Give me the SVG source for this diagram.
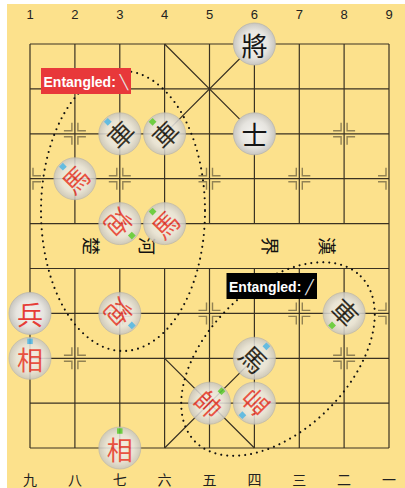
<svg xmlns="http://www.w3.org/2000/svg" width="405" height="488" viewBox="0 0 405 488">
  <style>
    .grid { stroke: #3a3222; stroke-width: 1.2; fill: none; }
    .mark { stroke: #6e6240; stroke-width: 1.4; fill: none; opacity: 0.75; }
    .num { font-family: "Liberation Sans", Arial, sans-serif; font-size: 13px; fill: #222; text-anchor: middle; }
    .cnum { font-family: "Noto Sans CJK SC", "Noto Sans", sans-serif; font-size: 14px; fill: #222; text-anchor: middle; }
    .river { font-family: "Noto Sans CJK TC", "Noto Sans CJK SC", sans-serif; font-size: 18px; fill: #111; text-anchor: middle; dominant-baseline: central; }
    .dots { fill: none; stroke: #111; stroke-width: 2.1; stroke-dasharray: 0 6; stroke-linecap: round; }
    .disc { fill: url(#pieceFill); stroke: #b9b6ae; stroke-width: 0.8; }
    .glyph { font-family: "Noto Sans CJK TC", "Noto Sans CJK SC", sans-serif; font-size: 26px; text-anchor: middle; dominant-baseline: central; }
    .red { fill: #e63c36; }
    .black { fill: #151515; }
    .q { opacity: 0.86; }
    .tagtext { font-family: "Liberation Sans", Arial, sans-serif; font-size: 14px; font-weight: bold; fill: #fff; }
    .slash { font-family: "DejaVu Sans", sans-serif; font-weight: normal; fill: #e6e6e6; }
  </style>
  <defs>
    <radialGradient id="pieceFill" cx="50%" cy="50%" r="50%">
      <stop offset="0%" stop-color="#f6f5f2"/>
      <stop offset="65%" stop-color="#e6e4df"/>
      <stop offset="100%" stop-color="#c8c6c0"/>
    </radialGradient>
    <path id="crossFull" class="mark" d="M-11,-3 H-3 V-11 M3,-11 V-3 H11 M11,3 H3 V11 M-3,11 V3 H-11"/>
    <path id="crossRight" class="mark" d="M3,-11 V-3 H11 M11,3 H3 V11"/>
    <path id="crossLeft" class="mark" d="M-11,-3 H-3 V-11 M-3,11 V3 H-11"/>
    <circle id="disc" class="disc" r="21"/>
    <rect id="tagBlue" x="-2.75" y="-19.75" width="5.5" height="5.5" fill="#4db6ee"/>
    <rect id="tagGreen" x="-2.75" y="-19.75" width="5.5" height="5.5" fill="#5acb38"/>
  </defs>

  <!-- paper -->
  <rect width="405" height="488" fill="#ffffff"/>
  <rect x="7" y="4" width="398" height="484" fill="#fce18c"/>

  <!-- file numbers -->
  <g id="top-numbers">
    <text class="num" x="30" y="19">1</text>
    <text class="num" x="74.9" y="19">2</text>
    <text class="num" x="119.8" y="19">3</text>
    <text class="num" x="164.6" y="19">4</text>
    <text class="num" x="209.5" y="19">5</text>
    <text class="num" x="254.4" y="19">6</text>
    <text class="num" x="299.3" y="19">7</text>
    <text class="num" x="344.1" y="19">8</text>
    <text class="num" x="389" y="19">9</text>
  </g>
  <g id="bottom-numbers">
    <text class="cnum" x="30" y="485">九</text>
    <text class="cnum" x="74.9" y="485">八</text>
    <text class="cnum" x="119.8" y="485">七</text>
    <text class="cnum" x="164.6" y="485">六</text>
    <text class="cnum" x="209.5" y="485">五</text>
    <text class="cnum" x="254.4" y="485">四</text>
    <text class="cnum" x="299.3" y="485">三</text>
    <text class="cnum" x="344.1" y="485">二</text>
    <text class="cnum" x="389" y="485">一</text>
  </g>

  <!-- board grid -->
  <g id="board" class="grid">
    <path d="M30,44 H389 M30,88.9 H389 M30,133.8 H389 M30,178.7 H389 M30,223.6 H389 M30,268.5 H389 M30,313.4 H389 M30,358.3 H389 M30,403.2 H389 M30,448 H389"/>
    <path d="M30,44 V448 M389,44 V448"/>
    <path d="M74.9,44 V223.6 M119.8,44 V223.6 M164.6,44 V223.6 M209.5,44 V223.6 M254.4,44 V223.6 M299.3,44 V223.6 M344.1,44 V223.6"/>
    <path d="M74.9,268.5 V448 M119.8,268.5 V448 M164.6,268.5 V448 M209.5,268.5 V448 M254.4,268.5 V448 M299.3,268.5 V448 M344.1,268.5 V448"/>
    <!-- palaces -->
    <path d="M164.6,44 L254.4,133.8 M254.4,44 L164.6,133.8"/>
    <path d="M164.6,358.3 L254.4,448 M254.4,358.3 L164.6,448"/>
  </g>

  <!-- point marks -->
  <g id="point-marks">
    <use href="#crossFull" x="74.9" y="133.8"/>
    <use href="#crossFull" x="344.1" y="133.8"/>
    <use href="#crossRight" x="30" y="178.7"/>
    <use href="#crossFull" x="119.8" y="178.7"/>
    <use href="#crossFull" x="209.5" y="178.7"/>
    <use href="#crossFull" x="299.3" y="178.7"/>
    <use href="#crossLeft" x="389" y="178.7"/>
    <use href="#crossRight" x="30" y="313.4"/>
    <use href="#crossFull" x="119.8" y="313.4"/>
    <use href="#crossFull" x="209.5" y="313.4"/>
    <use href="#crossFull" x="299.3" y="313.4"/>
    <use href="#crossLeft" x="389" y="313.4"/>
    <use href="#crossFull" x="74.9" y="358.3"/>
    <use href="#crossFull" x="344.1" y="358.3"/>
  </g>

  <!-- river -->
  <g id="river">
    <text class="river" transform="translate(92,246) rotate(90)">楚</text>
    <text class="river" transform="translate(148,246) rotate(90)">河</text>
    <text class="river" transform="translate(271,246) rotate(90)">界</text>
    <text class="river" transform="translate(328,246) rotate(90)">漢</text>
  </g>

  <!-- entanglement groups -->
  <g id="connectors">
    <ellipse class="dots" cx="123" cy="211" rx="82" ry="140"/>
    <ellipse class="dots" cx="0" cy="0" rx="117" ry="71" transform="translate(278,359) rotate(-45)"/>
  </g>

  <!-- pieces -->
  <g id="black-general" transform="translate(254.4,44)">
    <use href="#disc"/><text class="glyph black">將</text>
  </g>
  <g id="black-advisor" transform="translate(254.4,133.8)">
    <use href="#disc"/><text class="glyph black">士</text>
  </g>
  <g id="black-chariot-a" class="q" transform="translate(119.8,133.8) rotate(-45)">
    <use href="#disc"/><text class="glyph black">車</text><use href="#tagBlue"/>
  </g>
  <g id="black-chariot-b" class="q" transform="translate(164.6,133.8) rotate(-45)">
    <use href="#disc"/><text class="glyph black">車</text><use href="#tagGreen"/>
  </g>
  <g id="red-horse-a" class="q" transform="translate(74.9,178.7) rotate(-45)">
    <use href="#disc"/><text class="glyph red">馬</text><use href="#tagBlue"/>
  </g>
  <g id="red-cannon-a" class="q" transform="translate(119.8,223.6) rotate(135)">
    <use href="#disc"/><text class="glyph red">炮</text><use href="#tagGreen"/>
  </g>
  <g id="red-horse-b" class="q" transform="translate(164.6,223.6) rotate(-45)">
    <use href="#disc"/><text class="glyph red">馬</text><use href="#tagGreen"/>
  </g>
  <g id="red-soldier" transform="translate(30,313.4)">
    <use href="#disc"/><text class="glyph red">兵</text>
  </g>
  <g id="red-elephant-a" class="q" transform="translate(30,358.3)">
    <use href="#disc"/><text class="glyph red">相</text><use href="#tagBlue"/>
  </g>
  <g id="red-cannon-b" class="q" transform="translate(119.8,313.4) rotate(135)">
    <use href="#disc"/><text class="glyph red">炮</text><use href="#tagBlue"/>
  </g>
  <g id="red-elephant-b" class="q" transform="translate(119.8,448)">
    <use href="#disc"/><text class="glyph red">相</text><use href="#tagGreen"/>
  </g>
  <g id="black-chariot-c" class="q" transform="translate(344.1,313.4) rotate(-135)">
    <use href="#disc"/><text class="glyph black">車</text><use href="#tagGreen"/>
  </g>
  <g id="black-horse" class="q" transform="translate(254.4,358.3) rotate(45)">
    <use href="#disc"/><text class="glyph black">馬</text><use href="#tagBlue"/>
  </g>
  <g id="red-king-a" class="q" transform="translate(209.5,403.2) rotate(45)">
    <use href="#disc"/><text class="glyph red">帥</text><use href="#tagGreen"/>
  </g>
  <g id="red-king-b" class="q" transform="translate(254.4,403.2) rotate(-135)">
    <use href="#disc"/><text class="glyph red">帥</text><use href="#tagBlue"/>
  </g>

  <!-- labels -->
  <g id="label-red">
    <rect x="41" y="68" width="90" height="26" fill="#e8383a"/>
    <text class="tagtext" x="43.5" y="86.5">Entangled: <tspan class="slash">╲</tspan></text>
  </g>
  <g id="label-black">
    <rect x="226.5" y="273" width="90.5" height="26" fill="#000"/>
    <text class="tagtext" x="229" y="291.5">Entangled: <tspan class="slash">╱</tspan></text>
  </g>
</svg>
